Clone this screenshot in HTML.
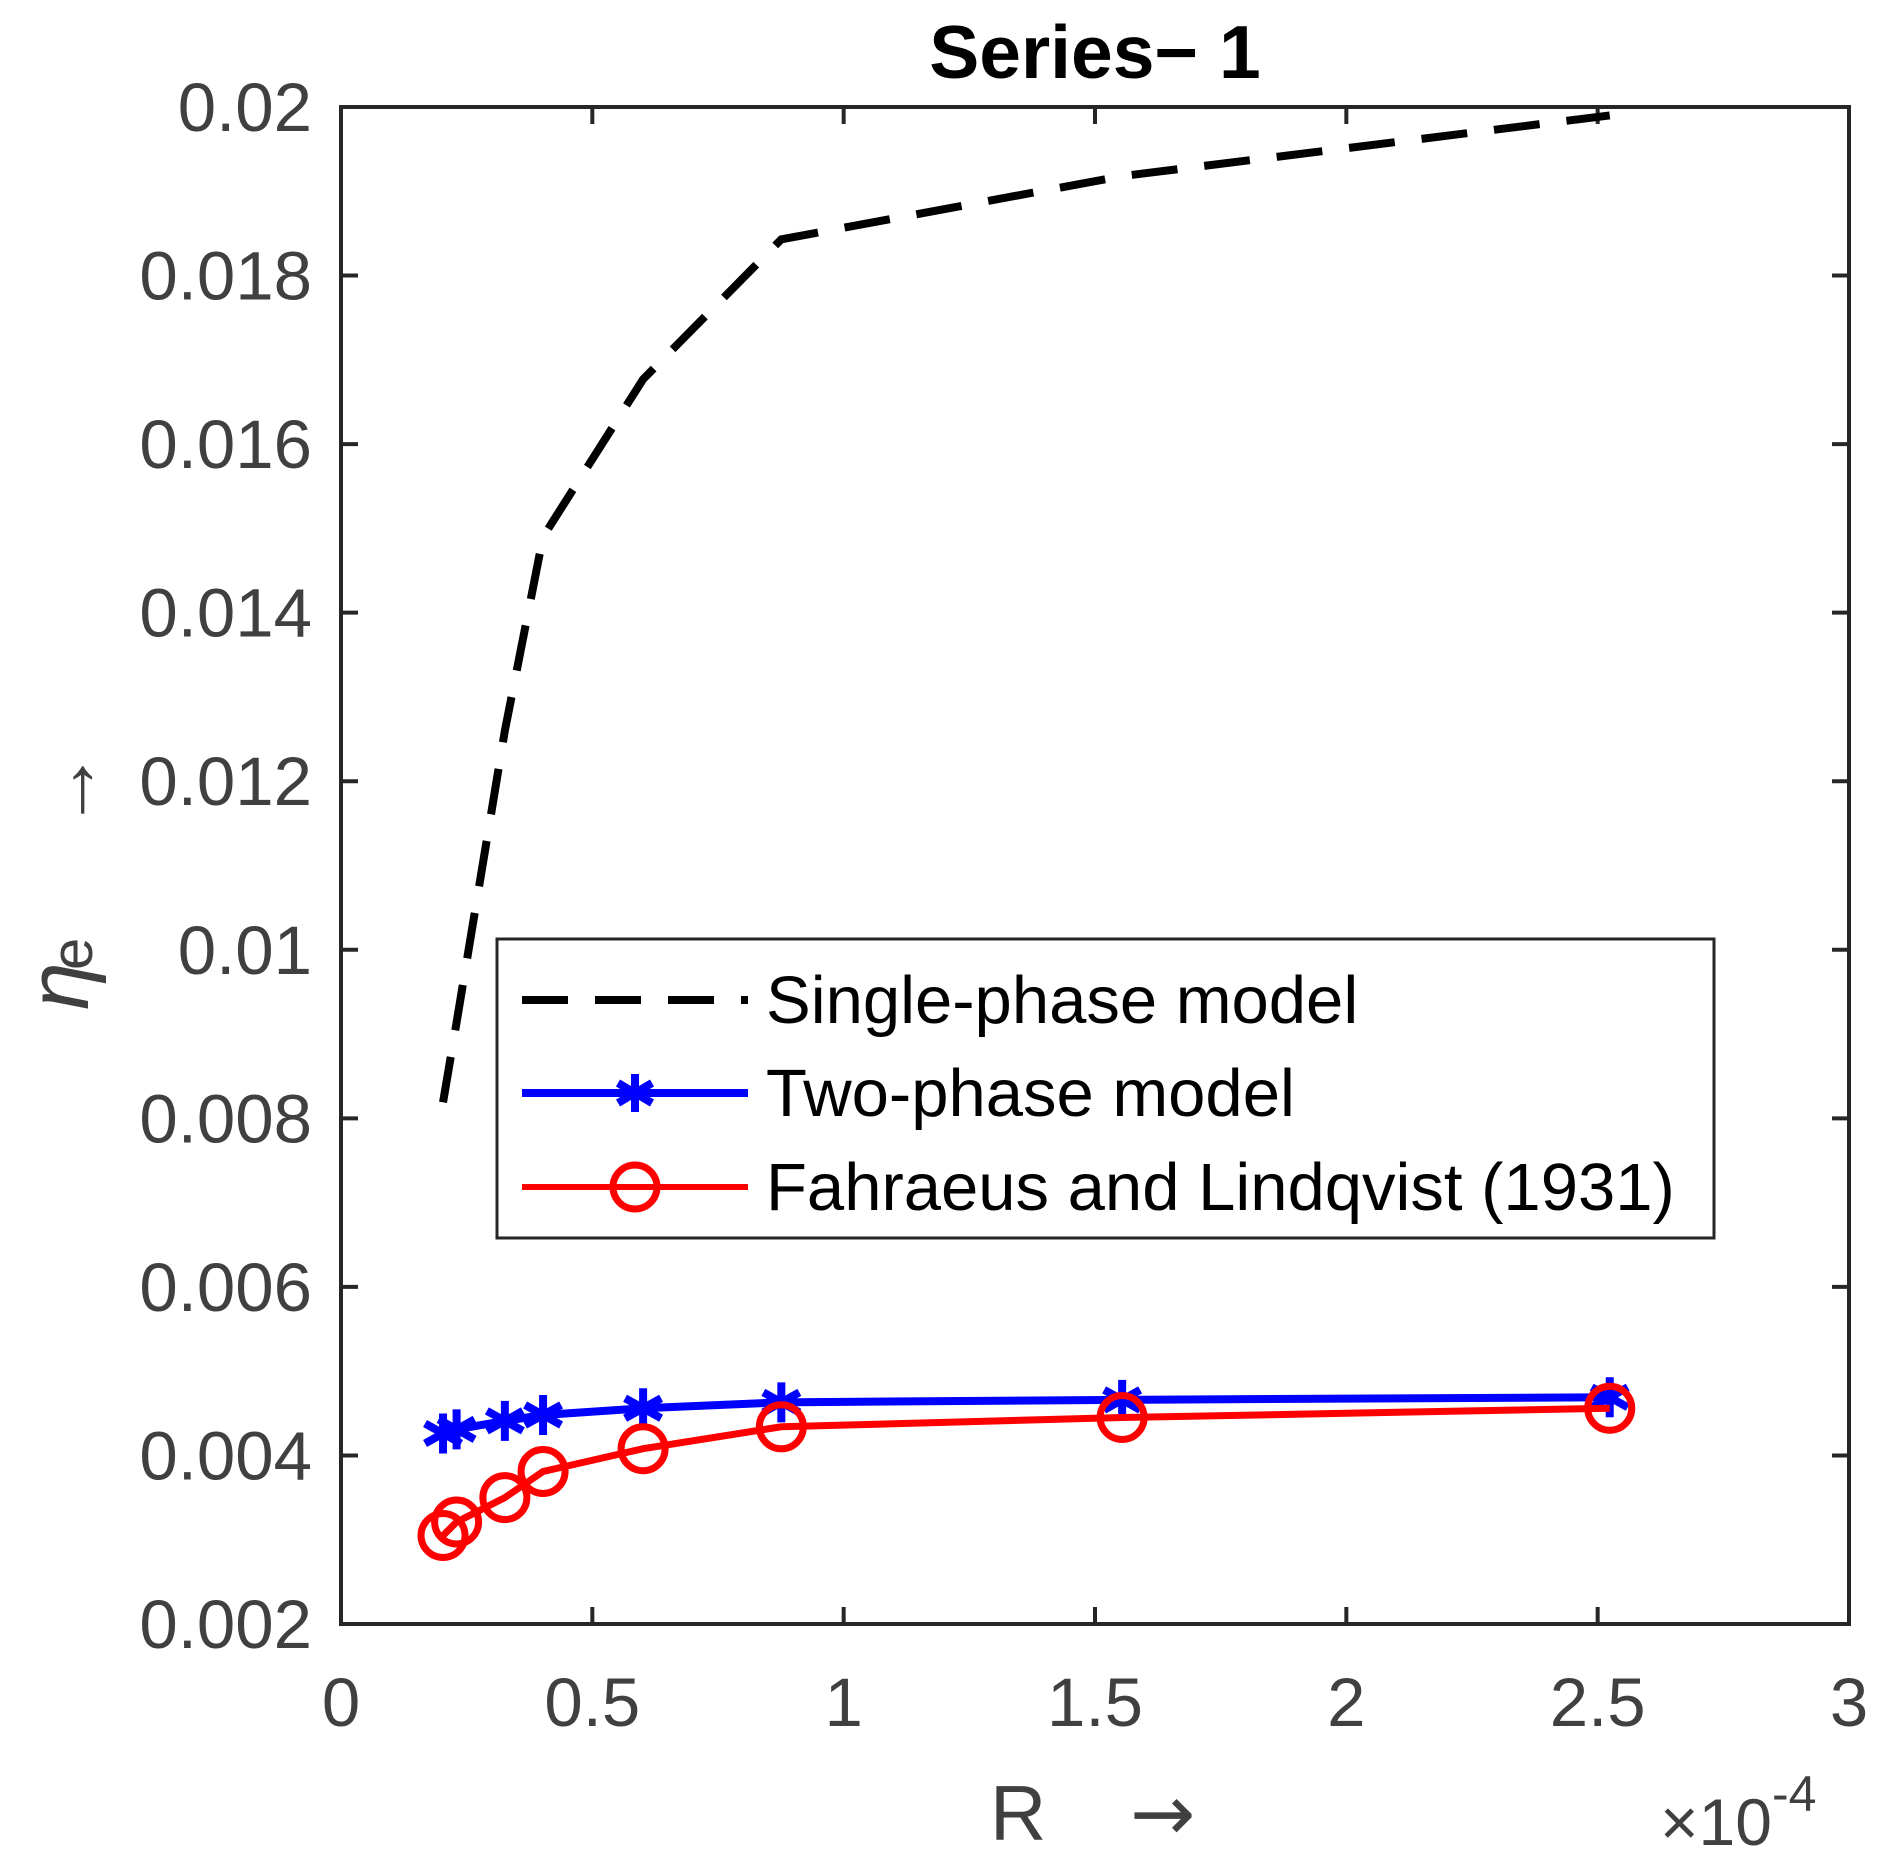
<!DOCTYPE html>
<html><head><meta charset="utf-8"><style>
html,body{margin:0;padding:0;background:#fff;}
svg text{font-family:"Liberation Sans",Arial,sans-serif;}
</style></head><body>
<svg id="chart" width="1885" height="1858" viewBox="0 0 1885 1858" xmlns="http://www.w3.org/2000/svg">
<rect width="1885" height="1858" fill="#fff"/>
<text x="1095" y="78" text-anchor="middle" font-size="75" font-weight="bold" fill="#000">Series− 1</text>
<g id="axes"></g>
<g id="series"></g>
<g id="legend">
<rect x="497" y="939" width="1217" height="299" fill="#fff" stroke="#262626" stroke-width="3"/>
<g>
<line x1="522" y1="1000" x2="748" y2="1000" stroke="#000" stroke-width="8" stroke-dasharray="46,27"/>
<text x="766" y="1023" font-size="67" fill="#000">Single-phase model</text></g>
<g>
<line x1="522" y1="1093" x2="748" y2="1093" stroke="#0000ff" stroke-width="8"/>
<g stroke="#0000ff" stroke-width="8"><line x1="635" y1="1074" x2="635" y2="1112"/><line x1="618" y1="1083" x2="652" y2="1103"/><line x1="618" y1="1103" x2="652" y2="1083"/></g>
<text x="766" y="1116" font-size="67" fill="#000">Two-phase model</text></g>
<g>
<line x1="522" y1="1187" x2="748" y2="1187" stroke="#ff0000" stroke-width="6"/>
<circle cx="635" cy="1187" r="22" fill="none" stroke="#ff0000" stroke-width="7"/>
<text x="766" y="1210" font-size="67" fill="#000">Fahraeus and Lindqvist (1931)</text></g>
</g>
<text x="1020" y="1840" font-size="78" fill="#404040"><tspan x="990">R</tspan><tspan x="1130" font-family="DejaVu Sans">→</tspan></text>
<text x="1660" y="1845" font-size="66" fill="#404040">×10<tspan font-size="50" dy="-34">-4</tspan></text>
<g transform="translate(88,0) rotate(-90)">
<text x="-1010" y="0" font-size="86" fill="#404040" font-family="Liberation Serif" font-style="italic">η</text>
<text x="-970" y="4" font-size="58" fill="#404040">e</text>
<text x="-830" y="8" font-size="80" fill="#404040">→</text>
</g>
</svg>
<script>
const categoriesR = [0.203, 0.23, 0.326, 0.402, 0.601, 0.876, 1.554, 2.524];
const singlePhase = [0.00819, 0.00914, 0.0126, 0.0149, 0.01677, 0.01843, 0.01918, 0.0199];
const twoPhase = [0.00426, 0.00431, 0.00441, 0.00448, 0.00456, 0.00463, 0.00466, 0.00469];
const fahraeus = [0.00305, 0.00321, 0.0035, 0.00381, 0.00408, 0.00434, 0.00445, 0.00456];
const xTicks = [0, 0.5, 1, 1.5, 2, 2.5, 3];
const xTickLabels = ["0", "0.5", "1", "1.5", "2", "2.5", "3"];
const yTicks = [0.002, 0.004, 0.006, 0.008, 0.01, 0.012, 0.014, 0.016, 0.018, 0.02];
const yTickLabels = ["0.002", "0.004", "0.006", "0.008", "0.01", "0.012", "0.014", "0.016", "0.018", "0.02"];

const L = 341, R = 1849, T = 107, B = 1624;
const xMin = 0, xMax = 3, yMin = 0.002, yMax = 0.02;
function X(v){ return L + (v - xMin) / (xMax - xMin) * (R - L); }
function Y(v){ return B - (v - yMin) / (yMax - yMin) * (B - T); }
const NS = "http://www.w3.org/2000/svg";
function mk(tag, attrs, parent){ const e = document.createElementNS(NS, tag); for (const k in attrs) e.setAttribute(k, attrs[k]); parent.appendChild(e); return e; }

const axes = document.getElementById('axes');
const box = mk('rect', {x: L, y: T, width: R - L, height: B - T, fill: 'none', stroke: '#262626', 'stroke-width': 4}, axes);


xTicks.forEach((t, i) => {
  const x = X(t);
  mk('line', {x1: x, y1: B, x2: x, y2: B - 17, stroke: '#262626', 'stroke-width': 4}, axes);
  mk('line', {x1: x, y1: T, x2: x, y2: T + 17, stroke: '#262626', 'stroke-width': 4}, axes);
  const tx = mk('text', {x: x, y: B + 102, 'text-anchor': 'middle', 'font-size': 69, fill: '#404040'}, axes);
  tx.textContent = xTickLabels[i];
  
  
});
yTicks.forEach((t, i) => {
  const y = Y(t);
  mk('line', {x1: L, y1: y, x2: L + 17, y2: y, stroke: '#262626', 'stroke-width': 4}, axes);
  mk('line', {x1: R, y1: y, x2: R - 17, y2: y, stroke: '#262626', 'stroke-width': 4}, axes);
  const tx = mk('text', {x: 312, y: y + 24, 'text-anchor': 'end', 'font-size': 69, fill: '#404040'}, axes);
  tx.textContent = yTickLabels[i];
  
  
});

const series = document.getElementById('series');
function pts(vals){ return categoriesR.map((r, i) => X(r) + ',' + Y(vals[i])).join(' '); }
const l1 = mk('polyline', {points: pts(singlePhase), fill: 'none', stroke: '#000', 'stroke-width': 8, 'stroke-dasharray': '46,27'}, series);


const l2 = mk('polyline', {points: pts(twoPhase), fill: 'none', stroke: '#0000ff', 'stroke-width': 8}, series);


categoriesR.forEach((r, i) => {
  const cx = X(r), cy = Y(twoPhase[i]);
  const g = mk('g', {stroke: '#0000ff', 'stroke-width': 8}, series);
  
  
  mk('line', {x1: cx, y1: cy - 20, x2: cx, y2: cy + 20}, g);
  mk('line', {x1: cx - 18, y1: cy - 10, x2: cx + 18, y2: cy + 10}, g);
  mk('line', {x1: cx - 18, y1: cy + 10, x2: cx + 18, y2: cy - 10}, g);
});
const l3 = mk('polyline', {points: pts(fahraeus), fill: 'none', stroke: '#ff0000', 'stroke-width': 7}, series);


categoriesR.forEach((r, i) => {
  const c = mk('circle', {cx: X(r), cy: Y(fahraeus[i]), r: 22, fill: 'none', stroke: '#ff0000', 'stroke-width': 7}, series);
  
  
});
</script>
</body></html>
